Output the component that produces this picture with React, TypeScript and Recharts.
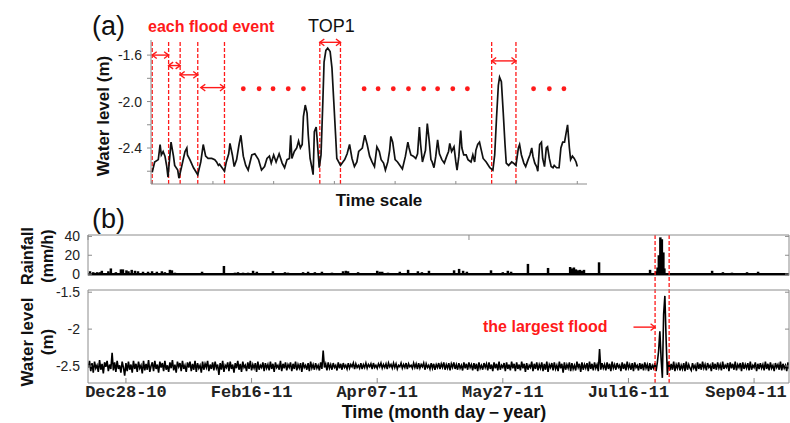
import React from 'react';
import { ComposedChart, Line, Bar, Scatter, XAxis, YAxis, ReferenceLine } from 'recharts';

const RED = '#ff1a1a';
const AXIS = '#8c8c8c';
const FONT = '"Liberation Sans", Arial, sans-serif';
const MONO = '"Liberation Mono", "Courier New", monospace';

// (a) one season of water level on a plain time scale
const scaleT = [
  0, 4, 10, 13, 15, 18, 21, 24, 26, 31,
  35, 37, 42, 44, 48, 54, 57, 58, 62, 68,
  75, 80, 84, 88, 92, 98, 103, 106, 109, 111,
  115, 119, 122, 126, 128, 132, 135, 139, 143, 146,
  150, 154, 158, 164, 169, 175, 180, 185, 189, 193,
  196, 200, 204, 209, 214, 218, 222, 226, 228, 230,
  234, 238, 241, 244, 247, 249, 252, 255, 257, 260,
  263, 265, 267, 270, 272, 275, 278, 281, 283, 286,
  289, 293, 296, 299, 302, 304, 307, 310, 314, 317,
  321, 325, 329, 333, 337, 340, 346, 350, 354, 358,
  362, 366, 370, 374, 377, 381, 384, 388, 391, 393,
  396, 400, 404, 408, 412, 417, 421, 423, 426, 430,
  434, 437, 440, 442, 445, 450, 453, 456, 459, 461,
  464, 467, 470, 473, 477, 481, 485, 488, 490, 493,
  497, 500, 502, 505, 508, 510, 513, 517, 520, 525,
  528, 531, 533, 536, 539, 542, 545, 550, 556, 561,
  564, 567, 570, 572, 575, 578, 581, 583, 587, 592,
  595, 599, 603, 605, 608, 612, 615, 619, 622, 625,
  627, 630, 633, 635, 638, 641, 643, 646, 649, 651,
  654, 657, 660, 662, 666, 670, 673, 676, 679, 681,
  684, 687, 689, 692, 695, 698, 700,
];
const scaleLevel = [
  -2.61, -2.52, -2.50, -2.37, -2.46, -2.43, -2.47, -2.56, -2.65, -2.35,
  -2.47, -2.55, -2.59, -2.66, -2.57, -2.43, -2.40, -2.46, -2.50, -2.57,
  -2.63, -2.52, -2.37, -2.47, -2.49, -2.49, -2.50, -2.52, -2.55, -2.54,
  -2.57, -2.60, -2.52, -2.45, -2.36, -2.46, -2.56, -2.50, -2.37, -2.29,
  -2.47, -2.55, -2.59, -2.46, -2.45, -2.50, -2.59, -2.56, -2.49, -2.47,
  -2.53, -2.46, -2.52, -2.45, -2.53, -2.57, -2.50, -2.49, -2.29, -2.49,
  -2.43, -2.40, -2.34, -2.40, -2.37, -2.13, -2.03, -2.10, -2.29, -2.49,
  -2.57, -2.63, -2.26, -2.22, -2.35, -2.57, -2.46, -2.00, -1.66, -1.56,
  -1.54, -1.57, -1.71, -2.00, -2.29, -2.49, -2.52, -2.55, -2.52, -2.50,
  -2.45, -2.37, -2.49, -2.56, -2.52, -2.43, -2.40, -2.29, -2.37, -2.47,
  -2.52, -2.56, -2.39, -2.43, -2.50, -2.53, -2.59, -2.52, -2.42, -2.30,
  -2.35, -2.50, -2.52, -2.55, -2.58, -2.47, -2.35, -2.40, -2.46, -2.47,
  -2.49, -2.45, -2.22, -2.37, -2.52, -2.42, -2.19, -2.33, -2.50, -2.52,
  -2.57, -2.47, -2.33, -2.45, -2.50, -2.53, -2.47, -2.43, -2.36, -2.43,
  -2.39, -2.52, -2.59, -2.47, -2.25, -2.40, -2.46, -2.46, -2.50, -2.52,
  -2.46, -2.52, -2.42, -2.37, -2.35, -2.42, -2.49, -2.52, -2.57, -2.59,
  -2.46, -2.14, -1.86, -1.79, -1.83, -2.09, -2.37, -2.53, -2.55, -2.52,
  -2.53, -2.55, -2.40, -2.37, -2.46, -2.53, -2.56, -2.50, -2.46, -2.40,
  -2.47, -2.53, -2.56, -2.60, -2.37, -2.35, -2.49, -2.56, -2.40, -2.39,
  -2.49, -2.56, -2.57, -2.55, -2.57, -2.57, -2.40, -2.35, -2.35, -2.29,
  -2.20, -2.40, -2.50, -2.47, -2.49, -2.52, -2.56,
];
const aXTicks = [0, 100, 200, 300, 400, 500, 600, 700];
const aYTicks = [-2.6, -2.4, -2.2, -2.0, -1.8, -1.6];
const aYLabelled = [-2.4, -2.0, -1.6];
const eventBounds = [0, 27, 46, 75, 119, 276, 310, 559, 599];
const eventArrowFrom = [0, 27, 46, 80, 276, 559];
const eventArrowTo = [27, 46, 75, 119, 310, 599];
const eventArrowLevel = [-1.6, -1.69, -1.77, -1.88, -1.49, -1.65];
const dotT = [150, 176, 199, 224, 249, 349, 372, 397, 422, 447, 470, 495, 519, 628, 654, 678];
const dotLevel = -1.89;

// (b) rainfall and water level, days after Dec28-10
const bTicks = [0, 50, 100, 150, 200, 250];
const bTickLabels = ['Dec28-10', 'Feb16-11', 'Apr07-11', 'May27-11', 'Jul16-11', 'Sep04-11'];
const rainDay = [
  -14.3, -13, -11.5, -10.4, -9.6, -7, -6, -4, -2, -1.2, 0.2, 1, 2.3, 3.6, 4.8, 6.8, 8.8,
  10.4, 12.3, 14.3, 15.5, 17.5, 18.3, 19.5, 23.5, 26.3, 30.3, 39, 43.4, 44.6, 46.6, 48.6,
  50.6, 52.1, 54.1, 58.5, 63.3, 64.5, 70.5, 72.5, 75.2, 78, 82, 86.4, 87.5, 88.4, 92.4,
  100, 101, 102, 104.3, 109, 112.3, 116.2, 117.8, 120.6, 124.2, 130.6, 132.6, 134.2,
  135.7, 145.3, 150, 152, 153.3, 155.6, 160, 167.6, 168, 176.8, 177.5, 178.3, 179.1,
  179.9, 180.7, 181.5, 182.3, 188.3, 192, 200, 208.6, 211, 211.6, 212.1, 212.7, 213.3,
  213.9, 214.3, 233.3, 237.6, 241.2, 247.2, 251.6,
];
const rainMm = [
  3, 2, 2, 2, 3.5, 3, 6, 2, 5, 5, 4, 3, 4.5, 3.5, 3, 2.5, 2.5,
  3, 2.5, 3, 2, 4.5, 4, 1.5, 1, 1, 2.5, 8.6, 1.5, 2, 1.5, 1.5,
  3.5, 2.5, 1, 3, 2, 1.5, 2, 2.5, 2, 2.5, 1.5, 3, 3.5, 3, 2,
  3.5, 2.5, 2.5, 1.5, 2.5, 4.5, 3, 2, 3.5, 1, 4, 5.5, 3.5,
  2.5, 4, 2, 3.5, 2.5, 1, 10.8, 1, 6.5, 7.5, 6, 7, 5,
  4, 4.5, 3.5, 4.5, 12.5, 1, 1, 4.5, 3, 7, 20, 39, 37,
  23, 6, 3.5, 2, 1.5, 2, 2.5,
];
// water level every half day (cm), starting at day -15
const wlStartDay = -15;
const wlStepDays = 0.5;
const wlCm = [
  -252, -243, -257, -246, -259, -244, -253, -249, -258, -242, -255, -247, -260, -245, -251, -243, -257, -248, -254, -232,
  -256, -245, -258, -243, -254, -249, -259, -244, -252, -263, -246, -257, -244, -255, -248, -259, -243, -254, -247, -258,
  -244, -253, -249, -260, -243, -256, -247, -255, -242, -258, -250, -245, -257, -243, -254, -248, -259, -244, -252, -246,
  -257, -243, -255, -249, -258, -245, -253, -242, -256, -248, -259, -244, -251, -246, -257, -243, -254, -249, -258, -245,
  -252, -244, -257, -247, -255, -243, -258, -246, -253, -249, -259, -244, -255, -247, -252, -243, -257, -248, -254, -245,
  -256, -244, -253, -248, -262, -246, -255, -243, -258, -249, -252, -245, -257, -244, -254, -248, -259, -246, -253, -243,
  -255, -247, -258, -244, -252, -249, -257, -245, -254, -243, -256, -248, -253, -246, -258, -244, -255, -249, -252, -245,
  -257, -246, -253, -248, -256, -244, -254, -247, -258, -245, -252, -249, -255, -243, -257, -247, -253, -245, -256, -248,
  -252, -245, -257, -247, -254, -244, -256, -248, -253, -246, -258, -245, -252, -249, -255, -246, -257, -244, -253, -248,
  -255, -246, -253, -249, -256, -245, -254, -229, -252, -247, -256, -245, -253, -248, -255, -246, -252, -249, -256, -245,
  -253, -247, -255, -246, -252, -249, -254, -246, -253, -248, -251, -246, -254, -247, -252, -249, -253, -246, -254, -248,
  -252, -246, -253, -248, -251, -247, -254, -246, -252, -249, -253, -247, -251, -246, -253, -248, -252, -247, -254, -246,
  -251, -248, -253, -246, -252, -247, -254, -249, -251, -246, -253, -248, -252, -246, -254, -247, -251, -249, -253, -246,
  -252, -247, -254, -246, -253, -248, -251, -246, -255, -247, -252, -249, -254, -246, -253, -247, -255, -248, -252, -246,
  -254, -247, -252, -245, -255, -248, -253, -246, -256, -247, -252, -245, -254, -248, -255, -246, -253, -249, -256, -245,
  -253, -247, -255, -245, -252, -248, -256, -246, -254, -247, -257, -245, -253, -249, -255, -246, -252, -247, -256, -245,
  -254, -248, -257, -245, -253, -247, -256, -244, -255, -249, -252, -246, -257, -245, -254, -248, -256, -244, -253, -247,
  -257, -245, -254, -248, -256, -244, -253, -247, -258, -246, -255, -249, -252, -244, -257, -247, -254, -245, -256, -248,
  -253, -245, -257, -247, -255, -244, -258, -248, -252, -246, -256, -245, -254, -249, -257, -244, -253, -247, -259, -245,
  -255, -248, -253, -245, -257, -246, -254, -249, -256, -244, -252, -247, -258, -245, -255, -248, -253, -246, -257, -244,
  -254, -247, -256, -245, -253, -248, -257, -227, -255, -246, -253, -248, -256, -245, -254, -247, -257, -244, -253, -248,
  -255, -246, -252, -249, -257, -245, -254, -247, -256, -244, -253, -248, -255, -246, -257, -245, -252, -249, -256, -246,
  -254, -247, -256, -245, -253, -248, -257, -246, -255, -249, -253, -246, -257, -245, -230, -203, -240, -266, -180, -155,
  -215, -262, -244, -256, -247, -255, -244, -257, -248, -253, -245, -256, -249, -254, -246, -257, -244, -255, -248, -253,
  -256, -246, -253, -249, -257, -245, -254, -247, -255, -244, -253, -248, -256, -246, -252, -249, -257, -245, -254, -247,
  -255, -245, -253, -248, -256, -244, -254, -249, -252, -246, -257, -245, -253, -247, -255, -244, -256, -248, -252, -246,
  -257, -245, -254, -248, -253, -246, -256, -244, -255, -249, -252, -245, -257, -247, -254, -246, -253, -248, -256, -244,
  -254, -247, -256, -245, -253, -249, -257, -246, -252, -248, -255, -244, -256, -247, -253, -249, -257, -245, -254, -246,
];
const floodBounds = [210.6, 216.2];
const floodArrowFrom = 202;
const floodArrowLevel = -1.973;

const B_DOMAIN = [-15.1, 263.9];
const RAIN_DOMAIN = [-1.5, 41.5];
const WL_DOMAIN = [-2.73, -1.47];

const scaleData = scaleT.map((t, i) => ({ t, level: scaleLevel[i] }));
const dotData = dotT.map((t) => ({ t, level: dotLevel }));
const rainData = rainDay.map((t, i) => ({ t, rain: rainMm[i] }));
const wlData = wlCm.map((v, i) => ({ t: wlStartDay + i * wlStepDays, level: v / 100 }));

const arrowShape = (both: boolean) => (p: any) => {
  const { x1, y1, x2, y2 } = p;
  const h = 4.5;
  return (
    <g stroke={RED} strokeWidth={1.4} fill="none">
      <line x1={x1} y1={y1} x2={x2} y2={y2} />
      <polyline points={`${x2 - h},${y2 - h * 0.75} ${x2},${y2} ${x2 - h},${y2 + h * 0.75}`} />
      {both && <polyline points={`${x1 + h},${y1 - h * 0.75} ${x1},${y1} ${x1 + h},${y1 + h * 0.75}`} />}
    </g>
  );
};

// recharts squeezes bars on a dense number axis, so draw each one 2.5px wide around its centre
const RainBar = (p: any) => {
  if (!p.height) return null;
  const cx = p.x + p.width / 2;
  return <rect x={cx - 1.25} y={p.y} width={2.5} height={p.height} fill="#000" />;
};

// date labels under panel (b); the last one is kept inside the page
const DateTick = (p: any) => {
  const label = bTickLabels[bTicks.indexOf(p.payload.value)] ?? '';
  const x = Math.min(p.x, 746);
  return (
    <text x={x} y={p.y} dy={11} textAnchor="middle" fontSize={17} fontWeight={600} fill="#222" fontFamily={MONO}>
      {label}
    </text>
  );
};

const blank = () => '';
const tickStyle = { fontSize: 14, fill: '#222', fontFamily: FONT };

function PanelA() {
  return (
    <ComposedChart width={790} height={200} margin={{ top: 40, right: 203, bottom: 6, left: 91 }}>
      <XAxis
        type="number"
        dataKey="t"
        domain={[-2, 716]}
        ticks={aXTicks}
        interval={0}
        allowDataOverflow
        tickFormatter={blank}
        tickSize={-3}
        height={10}
        axisLine={{ stroke: AXIS }}
        tickLine={{ stroke: AXIS }}
      />
      <YAxis
        type="number"
        domain={[-2.71, -1.47]}
        ticks={aYTicks}
        interval={0}
        allowDataOverflow
        width={60}
        tickSize={4}
        tickMargin={5}
        tickFormatter={(v: number) => (aYLabelled.some((k) => Math.abs(k - v) < 1e-6) ? v.toFixed(1) : '')}
        axisLine={{ stroke: AXIS }}
        tickLine={{ stroke: AXIS }}
        tick={tickStyle}
      />
      {eventBounds.map((x) => (
        <ReferenceLine key={`b${x}`} x={x} stroke={RED} strokeWidth={1.3} strokeDasharray="4 2" />
      ))}
      {eventArrowFrom.map((from, i) => (
        <ReferenceLine
          key={`a${i}`}
          segment={[{ x: from, y: eventArrowLevel[i] }, { x: eventArrowTo[i], y: eventArrowLevel[i] }]}
          ifOverflow="visible"
          shape={arrowShape(true)}
        />
      ))}
      <Line
        data={scaleData}
        dataKey="level"
        type="linear"
        stroke="#111"
        strokeWidth={1.7}
        dot={false}
        isAnimationActive={false}
      />
      <Scatter
        data={dotData}
        dataKey="level"
        isAnimationActive={false}
        shape={(p: any) => <circle cx={p.cx} cy={p.cy} r={2.4} fill={RED} />}
      />
    </ComposedChart>
  );
}

function boxAxes(domain: number[], yTicks: number[], labelled: boolean) {
  return [
    <XAxis
      key="xb"
      type="number"
      dataKey="t"
      domain={B_DOMAIN}
      ticks={bTicks}
      interval={0}
      allowDataOverflow
      tickSize={-5}
      tickMargin={labelled ? 8 : 0}
      height={labelled ? 22 : 5}
      tick={labelled ? <DateTick /> : false}
      axisLine={{ stroke: AXIS }}
      tickLine={{ stroke: AXIS }}
    />,
    <XAxis
      key="xt"
      xAxisId="top"
      orientation="top"
      type="number"
      domain={B_DOMAIN}
      ticks={bTicks}
      interval={0}
      allowDataOverflow
      tickSize={-5}
      height={5}
      tickFormatter={blank}
      axisLine={{ stroke: AXIS }}
      tickLine={{ stroke: AXIS }}
    />,
    <YAxis
      key="yl"
      type="number"
      domain={domain}
      ticks={yTicks}
      interval={0}
      allowDataOverflow
      width={60}
      tickSize={-4}
      tickMargin={12}
      tickFormatter={(v: number) => String(v)}
      axisLine={{ stroke: AXIS }}
      tickLine={{ stroke: AXIS }}
      tick={tickStyle}
    />,
    <YAxis
      key="yr"
      yAxisId="r"
      orientation="right"
      type="number"
      domain={domain}
      ticks={yTicks}
      interval={0}
      allowDataOverflow
      width={1}
      tickSize={-4}
      tickFormatter={blank}
      axisLine={{ stroke: AXIS }}
      tickLine={{ stroke: AXIS }}
    />,
  ];
}

function RainPanel() {
  return (
    <ComposedChart width={790} height={70} data={rainData} margin={{ top: 5, right: 0, bottom: 14.5, left: 28 }}>
      {boxAxes(RAIN_DOMAIN, [0, 20, 40], false)}
      <ReferenceLine y={0} stroke="#000" strokeWidth={2.4} />
      <Bar dataKey="rain" fill="#000" shape={<RainBar />} isAnimationActive={false} />
      {floodBounds.map((x) => (
        <ReferenceLine
          key={x}
          segment={[{ x, y: RAIN_DOMAIN[1] }, { x, y: -16.9 }]}
          ifOverflow="visible"
          stroke={RED}
          strokeWidth={1.3}
          strokeDasharray="4 2"
        />
      ))}
    </ComposedChart>
  );
}

function WaterPanel() {
  return (
    <ComposedChart width={790} height={143} margin={{ top: 5, right: 0, bottom: 18, left: 28 }}>
      {boxAxes(WL_DOMAIN, [-2.5, -2, -1.5], true)}
      <Line
        data={wlData}
        dataKey="level"
        type="linear"
        stroke="#000"
        strokeWidth={1.6}
        dot={false}
        isAnimationActive={false}
      />
      {floodBounds.map((x) => (
        <ReferenceLine key={x} x={x} stroke={RED} strokeWidth={1.3} strokeDasharray="4 2" />
      ))}
      <ReferenceLine
        segment={[{ x: floodArrowFrom, y: floodArrowLevel }, { x: floodBounds[0], y: floodArrowLevel }]}
        ifOverflow="visible"
        shape={arrowShape(false)}
      />
    </ComposedChart>
  );
}

export default function App() {
  return (
    <div style={{ position: 'absolute', left: 0, top: 0, width: 790, height: 423, background: '#fff', overflow: 'hidden' }}>
      <div style={{ position: 'absolute', left: 0, top: 0 }}>
        <PanelA />
      </div>
      <div style={{ position: 'absolute', left: 0, top: 225 }}>
        <RainPanel />
      </div>
      <div style={{ position: 'absolute', left: 0, top: 280 }}>
        <WaterPanel />
      </div>
      <svg width={790} height={423} style={{ position: 'absolute', left: 0, top: 0, pointerEvents: 'none' }} fontFamily={FONT}>
        <text x={92} y={35} fontSize={27} fill="#111">(a)</text>
        <text x={148} y={32} fontSize={16} fontWeight="bold" fill={RED}>each flood event</text>
        <text x={308} y={32} fontSize={18} fill="#111">TOP1</text>
        <text x={379} y={206} fontSize={17} fontWeight="bold" fill="#111" textAnchor="middle">Time scale</text>
        <text transform="translate(109,116) rotate(-90)" fontSize={17} fontWeight="bold" fill="#111" textAnchor="middle">
          Water level (m)
        </text>
        <text x={92} y={228} fontSize={27} fill="#111">(b)</text>
        <text transform="translate(33,256) rotate(-90)" fontSize={16} fontWeight="bold" fill="#111" textAnchor="middle">
          Rainfall
        </text>
        <text transform="translate(53,256) rotate(-90)" fontSize={16} fontWeight="bold" fill="#111" textAnchor="middle">
          (mm/h)
        </text>
        <text transform="translate(33,342) rotate(-90)" fontSize={17} fontWeight="bold" fill="#111" textAnchor="middle">
          Water level
        </text>
        <text transform="translate(53,342) rotate(-90)" fontSize={17} fontWeight="bold" fill="#111" textAnchor="middle">
          (m)
        </text>
        <text x={483} y={332} fontSize={16} fontWeight="bold" fill={RED}>the largest flood</text>
        <text x={444} y={418} fontSize={18} fontWeight="bold" fill="#111" textAnchor="middle">
          Time (month day－year)
        </text>
      </svg>
    </div>
  );
}
